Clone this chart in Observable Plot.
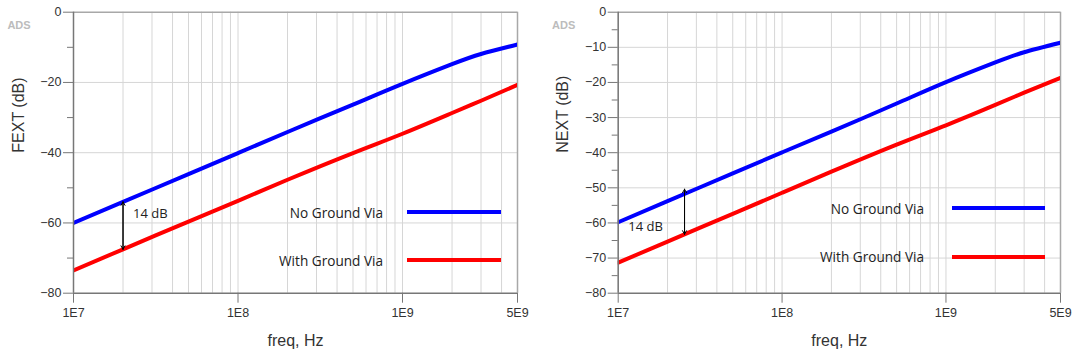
<!DOCTYPE html>
<html>
<head>
<meta charset="utf-8">
<script src="https://cdn.jsdelivr.net/npm/d3@7"></script>
<script src="https://cdn.jsdelivr.net/npm/@observablehq/plot@0.6"></script>
<style>
  html, body { margin: 0; padding: 0; background: #fff; }
  #wrap { display: flex; width: 1080px; height: 361px; }
  .panel { position: relative; width: 540px; height: 361px; }
  .legend { position: absolute; font-family: "Open Sans", sans-serif; font-size: 13.6px; color: #222; }
  .legend .row { position: absolute; display: flex; align-items: center; height: 20px; }
  .legend .lab { text-align: right; white-space: nowrap; }
  .legend .sw { height: 4px; }
</style>
</head>
<body>
<div id="wrap"></div>
<script>
// ---- data ----
const freq = [1e7, 2e7, 5e7, 1e8, 2e8, 5e8, 1e9, 2e9, 3e9, 5e9];
const fextNoVia   = [-60.0, -54.0, -46.1, -40.1, -34.1, -26.3, -20.4, -14.8, -11.9, -9.2];
const fextWithVia = [-73.5, -67.5, -59.6, -53.7, -47.7, -40.1, -34.6, -28.7, -25.2, -20.7];
const nextNoVia   = [-59.8, -53.8, -45.9, -39.9, -34.0, -26.0, -19.9, -14.3, -11.4, -8.7];
const nextWithVia = [-71.3, -65.3, -57.4, -51.4, -45.4, -37.7, -32.2, -26.4, -22.9, -18.7];

const seriesNames = ["No Ground Via", "With Ground Via"];
const seriesColors = ["#0000ff", "#ff0000"];

const xTickValues = [1e7, 1e8, 1e9, 5e9];
const xTickLabels = ["1E7", "1E8", "1E9", "5E9"];

const fextYTicks = [0, -20, -40, -60, -80];
const fextYMinor = [-10, -30, -50, -70];
const nextYTicks = [0, -10, -20, -30, -40, -50, -60, -70, -80];
const nextYMinor = [-5, -15, -25, -35, -45, -55, -65, -75];

// annotation: arrow frequency, top/bottom dB, label position
const fextArrow = {f: 2e7, top: -54.0, bottom: -67.5, labelF: 2e7, labelY: -57.3, dx: 10};
const nextArrow = {f: 2.54e7, top: -50.4, bottom: -63.2, labelF: 1e7, labelY: -61.1, dx: 10};
const arrowLabel = "14 dB";

// vertical grid at 1..9 x 10^k
const xGrid = [];
for (let k = 7; k <= 9; k++) for (let m = 1; m <= 9; m++) { const v = m * 10 ** k; if (v <= 5e9) xGrid.push(v); }

function makePanel({yLabel, noVia, withVia, yTicks, yMinor, yGrid, arrow, marginLeft, marginRight}) {
  const rows = [];
  freq.forEach((f, i) => {
    rows.push({f, v: noVia[i], s: seriesNames[0]});
    rows.push({f, v: withVia[i], s: seriesNames[1]});
  });
  const fontTick = "Liberation Sans, Arial, sans-serif";
  const xLabels = xTickValues.map((v, i) => ({v, t: xTickLabels[i]}));
  return Plot.plot({
    width: 540,
    height: 361,
    marginLeft, marginRight,
    marginTop: 11.7,
    marginBottom: 68.3,
    style: {fontFamily: fontTick, fontSize: "12.5px", color: "#333", background: "#fff", overflow: "visible"},
    x: {type: "log", domain: [1e7, 5e9], axis: null},
    y: {type: "linear", domain: [-80, 0], axis: null},
    color: {domain: seriesNames, range: seriesColors},
    marks: [
      Plot.gridX(xGrid, {stroke: "#d6d6d6", strokeOpacity: 1, strokeWidth: 1}),
      Plot.gridY(yGrid, {stroke: "#d6d6d6", strokeOpacity: 1, strokeWidth: 1}),
      Plot.ruleY([0], {stroke: "#a8a8a8", strokeWidth: 1.5}),
      Plot.ruleX([5e9], {stroke: "#a8a8a8", strokeWidth: 1.5}),
      Plot.line(rows, {x: "f", y: "v", z: "s", stroke: "s", strokeWidth: 4, curve: "natural", clip: true}),
      Plot.arrow([arrow], {x1: "f", x2: "f", y1: "top", y2: "bottom", stroke: "#000", strokeWidth: 1, headLength: 6}),
      Plot.arrow([arrow], {x1: "f", x2: "f", y1: "bottom", y2: "top", stroke: "#000", strokeWidth: 1, headLength: 6}),
      Plot.text([arrow], {x: "labelF", y: "labelY", dx: arrow.dx, text: () => arrowLabel, textAnchor: "start", fontFamily: "Open Sans, sans-serif", fontSize: 13, fill: "#222"}),
      Plot.ruleX([1e7], {stroke: "#777", strokeWidth: 1.5}),
      Plot.ruleY([-80], {stroke: "#777", strokeWidth: 1.5}),
      Plot.axisY(yTicks, {tickSize: 10, tickPadding: 2, label: null, stroke: "#777", fill: "#333"}),
      Plot.axisY(yMinor, {tickSize: 6, tickFormat: () => "", label: null, stroke: "#777"}),
      Plot.ruleX(xTickValues, {y1: -80, y2: -80, insetBottom: -10, stroke: "#777", strokeWidth: 1}),
      Plot.text(xLabels, {x: "v", text: "t", frameAnchor: "bottom", dy: 24, fill: "#333", fontSize: 12.5}),
      Plot.text(["freq, Hz"], {frameAnchor: "bottom", dy: 53, fontSize: 16, fill: "#333"}),
      Plot.text([yLabel], {frameAnchor: "left", rotate: -90, dx: -55, fontSize: 16, fill: "#333"}),
      Plot.text(["ADS"], {frameAnchor: "top-left", textAnchor: "middle", dx: -54.5, dy: 9, fontSize: 11, fontWeight: "bold", fill: "#bcbcbc"})
    ]
  });
}

function addLegend(panel, {textRight, rowYs, lineLeft, lineRight}) {
  const lg = document.createElement("div");
  lg.className = "legend";
  lg.style.left = "0px"; lg.style.top = "0px";
  seriesNames.forEach((name, i) => {
    const row = document.createElement("div");
    row.className = "row";
    row.style.top = (rowYs[i] - 10) + "px";
    row.style.left = "0px";
    const lab = document.createElement("div");
    lab.className = "lab";
    lab.style.width = textRight + "px";
    lab.textContent = name;
    const sw = document.createElement("div");
    sw.className = "sw";
    sw.style.marginLeft = (lineLeft - textRight) + "px";
    sw.style.width = (lineRight - lineLeft) + "px";
    sw.style.background = seriesColors[i];
    row.appendChild(lab); row.appendChild(sw);
    lg.appendChild(row);
  });
  panel.appendChild(lg);
}

const wrap = document.getElementById("wrap");

const p1 = document.createElement("div"); p1.className = "panel";
p1.appendChild(makePanel({yLabel: "FEXT (dB)", noVia: fextNoVia, withVia: fextWithVia,
  yTicks: fextYTicks, yMinor: fextYMinor, yGrid: [-20, -40, -60], arrow: fextArrow, marginLeft: 73, marginRight: 23}));
addLegend(p1, {textRight: 383, rowYs: [212.3, 260], lineLeft: 406.7, lineRight: 500.7});
wrap.appendChild(p1);

const p2 = document.createElement("div"); p2.className = "panel";
p2.appendChild(makePanel({yLabel: "NEXT (dB)", noVia: nextNoVia, withVia: nextWithVia,
  yTicks: nextYTicks, yMinor: nextYMinor, yGrid: [-10, -20, -30, -40, -50, -60, -70], arrow: nextArrow, marginLeft: 77.7, marginRight: 20}));
addLegend(p2, {textRight: 384, rowYs: [208.3, 256.7], lineLeft: 411.7, lineRight: 505});
wrap.appendChild(p2);
</script>
</body>
</html>
